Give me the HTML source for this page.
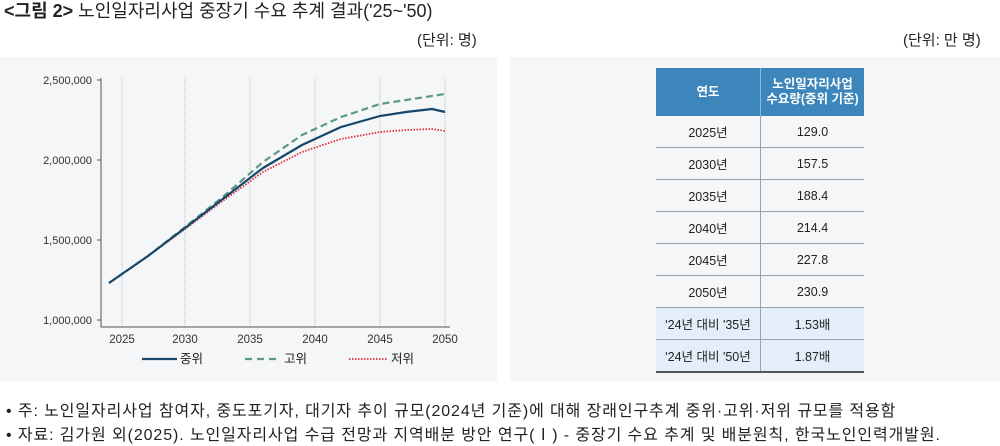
<!DOCTYPE html>
<html><head><meta charset="utf-8"><style>
body{margin:0;width:1000px;height:446px;background:#fff;font-family:"Liberation Sans","Noto Sans CJK KR",sans-serif;color:#222;position:relative;overflow:hidden}
.a{position:absolute;white-space:nowrap}
table{border-collapse:collapse;position:absolute;left:656px;top:68px;width:208px;font-size:12.5px;text-align:center}
td{height:31px;border-bottom:1px solid #9aa3ab;padding:0}
td:first-child{border-right:1px solid #9aa3ab;width:104px}
th{background:#3c86bb;color:#fff;height:48px;font-weight:bold;font-size:12.5px;line-height:15px;padding:0}
th:first-child{border-right:1px solid #8fb8d8}
tr.b td{background:#e3eef8}
</style></head><body>
<div class="a" style="left:4px;top:-1px;font-size:18px;line-height:24px"><b>&lt;그림 2&gt;</b> 노인일자리사업 중장기 수요 추계 결과('25~'50)</div>
<div class="a" style="left:417px;top:29px;font-size:15px">(단위: 명)</div>
<div class="a" style="left:903px;top:29px;font-size:15px">(단위: 만 명)</div>
<div class="a" style="left:0;top:57px;width:497px;height:325px;background:#f5f6f8"></div>
<div class="a" style="left:510px;top:57px;width:490px;height:325px;background:#f5f6f8"></div>
<svg class="a" style="left:0;top:0" width="500" height="390">
<g stroke="#bbb" stroke-width="1" stroke-dasharray="1,1">
<line x1="122" y1="78" x2="122" y2="327"/><line x1="185" y1="78" x2="185" y2="327"/><line x1="250" y1="78" x2="250" y2="327"/><line x1="315" y1="78" x2="315" y2="327"/><line x1="380" y1="78" x2="380" y2="327"/><line x1="445" y1="78" x2="445" y2="327"/></g>
<g stroke="#555" fill="none"><path d="M101 78V327H450"/><path d="M97 80H101M97 160H101M97 240H101M97 320H101"/></g>
<g font-size="11" fill="#333" text-anchor="end" font-family="Liberation Sans,sans-serif"><text x="92" y="84">2,500,000</text><text x="92" y="164">2,000,000</text><text x="92" y="244">1,500,000</text><text x="92" y="324">1,000,000</text></g>
<g font-size="11.5" fill="#333" text-anchor="middle" font-family="Liberation Sans,sans-serif"><text x="122" y="343">2025</text><text x="185" y="343">2030</text><text x="250" y="343">2035</text><text x="315" y="343">2040</text><text x="380" y="343">2045</text><text x="445" y="343">2050</text></g>
<path d="M109 283L148 256L185 227L224 196L263 162L302 135L341 117L380 104L406 100L432 96L445 94" fill="none" stroke="#5b9a84" stroke-width="2.2" stroke-dasharray="7,4" stroke-linejoin="round"/>
<path d="M109 283L148 256L185 229L224 200L263 172L302 152L341 139L380 132L406 130L432 129L445 131" fill="none" stroke="#e0303a" stroke-width="1.8" stroke-dasharray="1.5,1.5" stroke-linejoin="round"/>
<path d="M109 283L148 256L185 228L224 198L263 168L302 145L341 127L380 116L406 112L432 109L445 112" fill="none" stroke="#16476b" stroke-width="2.2" stroke-linejoin="round"/>
<line x1="142" y1="359" x2="177" y2="359" stroke="#16476b" stroke-width="2.2"/>
<line x1="245" y1="359" x2="281" y2="359" stroke="#5b9a84" stroke-width="2.2" stroke-dasharray="7,5"/>
<line x1="349" y1="359" x2="387" y2="359" stroke="#e0303a" stroke-width="1.8" stroke-dasharray="1.5,1.5"/>
<g font-size="12.5" fill="#222" font-family="Liberation Sans,Noto Sans CJK KR,sans-serif"><text x="180" y="363">중위</text><text x="284" y="363">고위</text><text x="391" y="363">저위</text></g>
</svg>
<table>
<tr><th>연도</th><th>노인일자리사업<br>수요량(중위 기준)</th></tr>
<tr><td>2025년</td><td>129.0</td></tr>
<tr><td>2030년</td><td>157.5</td></tr>
<tr><td>2035년</td><td>188.4</td></tr>
<tr><td>2040년</td><td>214.4</td></tr>
<tr><td>2045년</td><td>227.8</td></tr>
<tr><td>2050년</td><td>230.9</td></tr>
<tr class="b"><td>'24년 대비 '35년</td><td>1.53배</td></tr>
<tr class="b"><td style="border-bottom:2px solid #555">'24년 대비 '50년</td><td style="border-bottom:2px solid #555">1.87배</td></tr>
</table>
<div class="a" style="left:6px;top:397px;font-size:16px;letter-spacing:0.9px">• 주: 노인일자리사업 참여자, 중도포기자, 대기자 추이 규모(2024년 기준)에 대해 장래인구추계 중위·고위·저위 규모를 적용함</div>
<div class="a" style="left:6px;top:421px;font-size:16px;letter-spacing:0.9px">• 자료: 김가원 외(2025). 노인일자리사업 수급 전망과 지역배분 방안 연구(Ⅰ) - 중장기 수요 추계 및 배분원칙, 한국노인인력개발원.</div>
</body></html>
